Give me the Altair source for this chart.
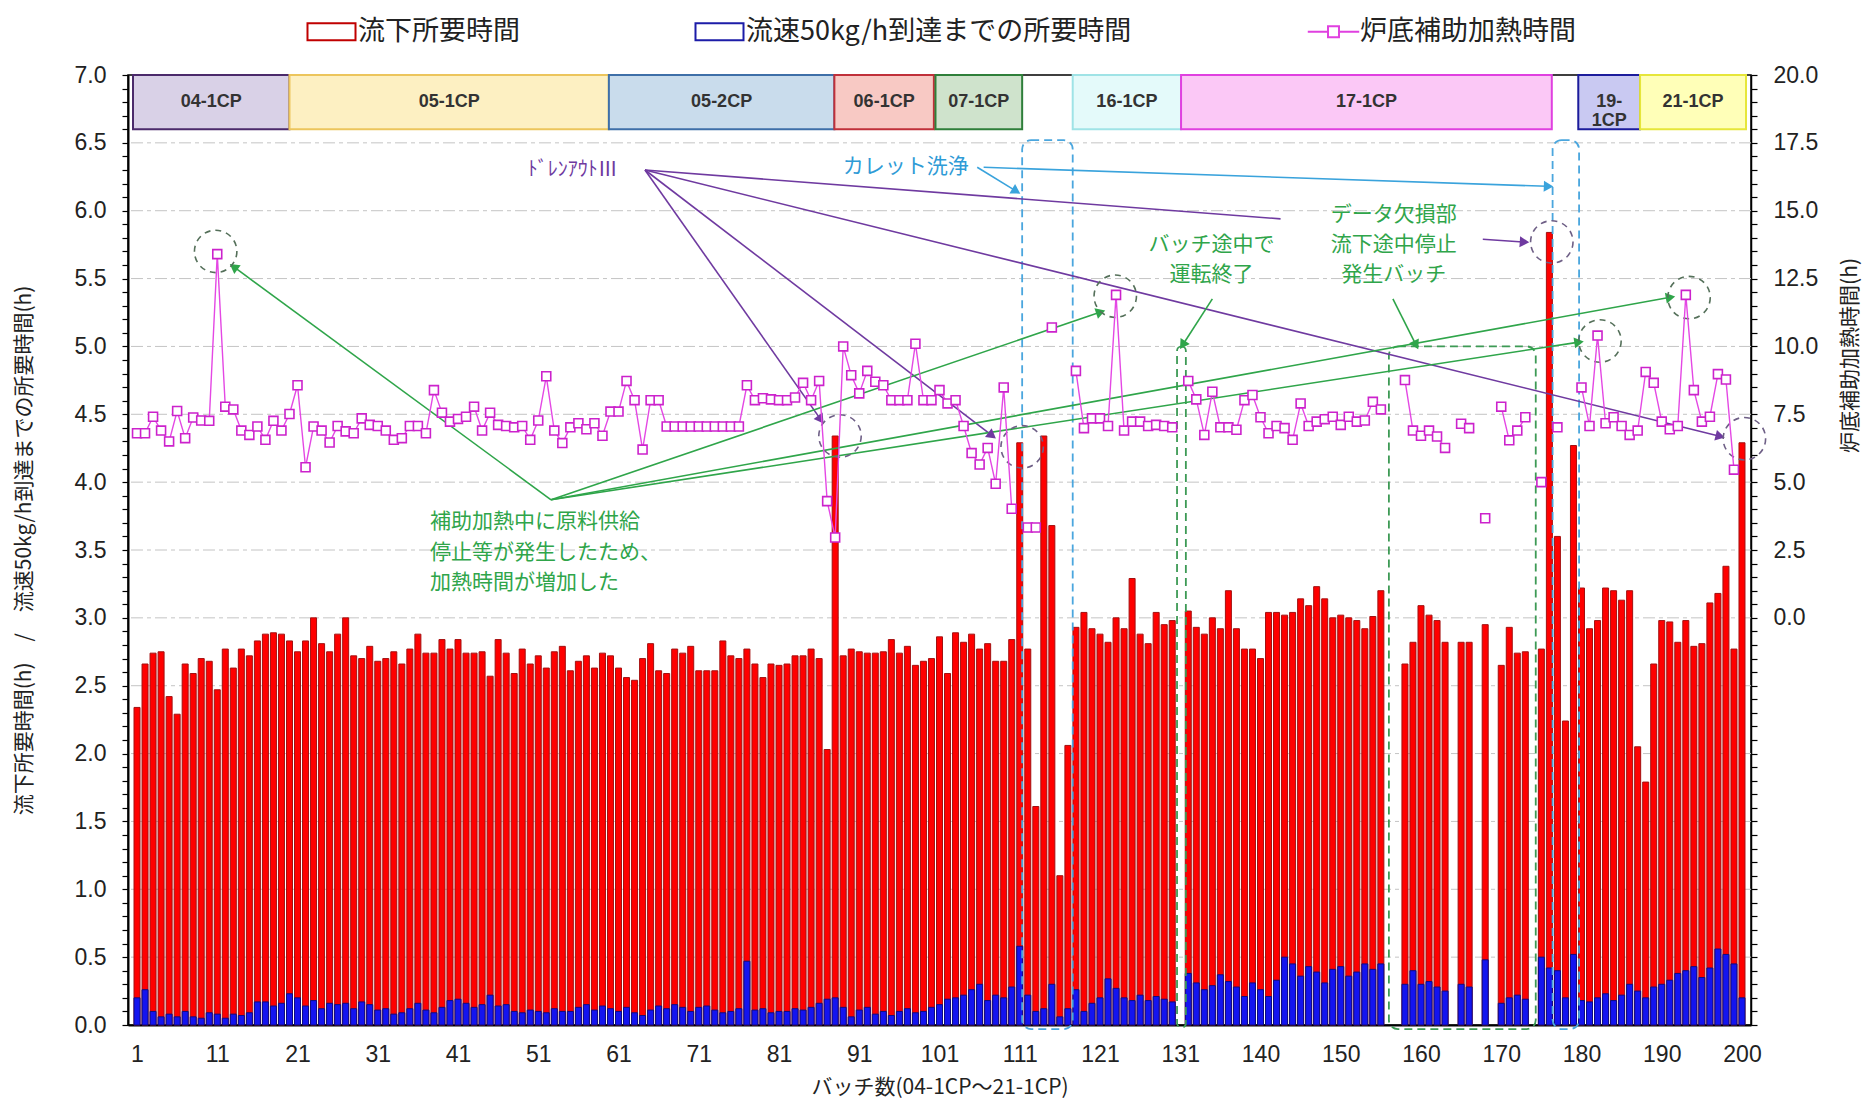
import math
import altair as alt
import pandas as pd

JP = "Noto Sans CJK JP"
NUM = "Liberation Sans"

W, H = 1623, 950
X_DOMAIN = [0.5, 201.5]
YL_DOMAIN = [0, 7]
YR_DOMAIN = [-15, 20]

PURPLE = "#6f3aa0"
BLUE_T = "#2f9bd6"
GREEN = "#2fa54a"

# ---------------- data ----------------
slots = list(range(1, 202))

flow_time = [
    2.34, 2.66, 2.74, 2.75, 2.42, 2.29, 2.66, 2.59, 2.70, 2.68,
    2.47, 2.77, 2.63, 2.77, 2.72, 2.83, 2.88, 2.89, 2.88, 2.83,
    2.75, 2.83, 3.00, 2.81, 2.75, 2.88, 3.00, 2.72, 2.70, 2.79,
    2.68, 2.70, 2.75, 2.66, 2.77, 2.88, 2.74, 2.74, 2.84, 2.77,
    2.84, 2.74, 2.74, 2.75, 2.57, 2.84, 2.74, 2.59, 2.77, 2.66,
    2.72, 2.63, 2.75, 2.79, 2.61, 2.68, 2.72, 2.63, 2.74, 2.72,
    2.63, 2.56, 2.54, 2.70, 2.81, 2.61, 2.59, 2.77, 2.74, 2.79,
    2.61, 2.61, 2.61, 2.83, 2.72, 2.70, 2.77, 2.66, 2.56, 2.66,
    2.65, 2.66, 2.72, 2.72, 2.77, 2.70, 2.03, 4.34, 2.72, 2.77,
    2.75, 2.74, 2.74, 2.75, 2.84, 2.74, 2.79, 2.65, 2.68, 2.70,
    2.86, 2.59, 2.89, 2.82, 2.88, 2.77, 2.81, 2.68, 2.68, 2.84,
    4.29, 2.77, 1.61, 4.34, 3.68, 1.10, 2.06, 2.93, 3.04, 2.92,
    2.88, 2.82, 3.00, 2.92, 3.29, 2.88, 2.81, 3.04, 2.95, 2.98,
    None, 3.05, 2.93, 2.88, 3.00, 2.92, 3.20, 2.92, 2.77, 2.77,
    2.70, 3.04, 3.04, 3.02, 3.04, 3.14, 3.09, 3.23, 3.14, 3.00,
    3.02, 3.00, 2.98, 2.92, 3.01, 3.20, None, None, 2.66, 2.82,
    3.09, 3.02, 2.98, 2.82, None, 2.82, 2.82, None, 2.95, None,
    2.65, 2.93, 2.74, 2.75, None, 2.77, 5.84, 3.60, 2.24, 4.27,
    3.22, 2.92, 2.98, 3.22, 3.20, 3.13, 3.20, 2.05, 1.79, 2.66,
    2.98, 2.97, 2.82, 2.98, 2.79, 2.81, 3.11, 3.18, 3.38, 2.77,
    4.29,
]

rate50_time = [
    0.20, 0.26, 0.10, 0.06, 0.08, 0.06, 0.10, 0.06, 0.05, 0.09,
    0.08, 0.05, 0.08, 0.07, 0.09, 0.17, 0.17, 0.14, 0.16, 0.23,
    0.20, 0.14, 0.18, 0.12, 0.16, 0.15, 0.16, 0.12, 0.17, 0.15,
    0.11, 0.12, 0.08, 0.09, 0.12, 0.16, 0.11, 0.09, 0.13, 0.18,
    0.19, 0.16, 0.13, 0.15, 0.22, 0.14, 0.15, 0.10, 0.09, 0.11,
    0.10, 0.09, 0.12, 0.10, 0.10, 0.13, 0.15, 0.11, 0.14, 0.12,
    0.10, 0.13, 0.09, 0.07, 0.11, 0.14, 0.12, 0.15, 0.13, 0.10,
    0.13, 0.14, 0.11, 0.09, 0.10, 0.12, 0.47, 0.11, 0.12, 0.09,
    0.10, 0.10, 0.12, 0.11, 0.13, 0.16, 0.19, 0.20, 0.13, 0.06,
    0.11, 0.13, 0.08, 0.10, 0.07, 0.10, 0.12, 0.09, 0.10, 0.13,
    0.15, 0.19, 0.20, 0.22, 0.26, 0.30, 0.18, 0.22, 0.20, 0.28,
    0.58, 0.22, 0.10, 0.12, 0.30, 0.06, 0.12, 0.26, 0.10, 0.16,
    0.20, 0.34, 0.27, 0.20, 0.18, 0.22, 0.18, 0.21, 0.19, 0.17,
    None, 0.38, 0.31, 0.26, 0.29, 0.37, 0.32, 0.28, 0.21, 0.31,
    0.26, 0.21, 0.33, 0.50, 0.45, 0.36, 0.43, 0.39, 0.31, 0.41,
    0.43, 0.36, 0.39, 0.45, 0.41, 0.45, None, None, 0.30, 0.40,
    0.30, 0.32, 0.28, 0.25, None, 0.30, 0.28, None, 0.48, None,
    0.16, 0.20, 0.22, 0.19, None, 0.50, 0.42, 0.40, 0.20, 0.52,
    0.18, 0.17, 0.20, 0.23, 0.18, 0.22, 0.30, 0.25, 0.20, 0.28,
    0.30, 0.33, 0.38, 0.40, 0.43, 0.35, 0.42, 0.56, 0.52, 0.45,
    0.20,
]

heat_time = [
    6.80, 6.80, 7.41, 6.90, 6.50, 7.62, 6.62, 7.38, 7.27, 7.26,
    13.4, 7.78, 7.68, 6.90, 6.74, 7.05, 6.56, 7.26, 6.90, 7.51,
    8.57, 5.55, 7.05, 6.90, 6.46, 7.07, 6.87, 6.80, 7.35, 7.11,
    7.07, 6.90, 6.56, 6.62, 7.07, 7.07, 6.80, 8.39, 7.56, 7.23,
    7.33, 7.41, 7.78, 6.90, 7.56, 7.11, 7.07, 7.02, 7.07, 6.56,
    7.27, 8.90, 6.90, 6.44, 7.02, 7.17, 6.95, 7.17, 6.71, 7.60,
    7.60, 8.73, 8.02, 6.20, 8.02, 8.02, 7.05, 7.05, 7.05, 7.05,
    7.05, 7.05, 7.05, 7.05, 7.05, 7.05, 8.57, 8.02, 8.09, 8.05,
    8.02, 8.02, 8.12, 8.66, 8.02, 8.73, 4.30, 2.96, 10.0, 8.94,
    8.27, 9.10, 8.70, 8.57, 8.02, 8.02, 8.02, 10.1, 8.02, 8.02,
    8.39, 7.90, 8.02, 7.07, 6.07, 5.65, 6.26, 4.94, 8.49, 4.02,
    None, 3.33, 3.33, None, 10.7, None, None, 9.10, 6.99, 7.35,
    7.35, 7.07, 11.9, 6.90, 7.23, 7.23, 7.07, 7.11, 7.07, 7.02,
    None, 8.73, 8.05, 6.74, 8.33, 7.02, 7.02, 6.93, 8.02, 8.21,
    7.39, 6.80, 7.07, 6.99, 6.56, 7.90, 7.07, 7.23, 7.32, 7.41,
    7.11, 7.41, 7.23, 7.27, 7.96, 7.68, None, None, 8.76, 6.90,
    6.71, 6.90, 6.68, 6.26, None, 7.15, 6.99, None, 3.67, None,
    7.78, 6.54, 6.90, 7.39, None, 5.00, None, 7.02, None, None,
    8.49, 7.07, 10.4, 7.17, 7.39, 7.07, 6.74, 6.90, 9.06, 8.66,
    7.23, 6.95, 7.07, 11.9, 8.39, 7.23, 7.41, 8.98, 8.78, 5.46,
    None,
]

tick_slots = [1, 11, 21, 31, 41, 51, 61, 71, 81, 91, 101, 111, 121, 131,
              141, 151, 161, 171, 181, 191, 201]
tick_labels = ["1", "11", "21", "31", "41", "51", "61", "71", "81", "91", "101",
               "111", "121", "131", "140", "150", "160", "170", "180", "190", "200"]

left_ticks = [round(i * 0.1, 1) for i in range(71)]
left_grid = [0.5 * i for i in range(1, 14)]
right_ticks = [i * 0.5 for i in range(-30, 41)]

series_names = ["流下所要時間", "流速50kg/h到達までの所要時間", "炉底補助加熱時間"]
series_colors = ["#c00000", "#1c1ca8", "#e040e0"]
series_shapes = [
    "M-1.4,-0.5H1.4V0.5H-1.4Z",
    "M-1.4,-0.5H1.4V0.5H-1.4Z",
    "M-1.5,0H-0.32M0.32,0H1.5M-0.32,-0.32H0.32V0.32H-0.32Z",
]

camp_names = ["04-1CP", "05-1CP", "05-2CP", "06-1CP", "07-1CP",
              "16-1CP", "17-1CP", "19-\n1CP", "21-1CP"]
camp_start = [0.5, 20.0, 59.8, 87.9, 100.5, 117.6, 131.1, 180.6, 188.3]
camp_end = [20.0, 59.8, 87.9, 100.3, 111.3, 131.1, 177.3, 188.3, 201.5]
camp_fill = ["#d9d1e7", "#fdf0c2", "#c9dcec", "#f8c9c4", "#cfe3cc",
             "#e4fafa", "#fbc8f6", "#c9c9f2", "#ffffb8"]
camp_stroke = ["#4b2a6b", "#ecc55c", "#3e6fa8", "#c0303a", "#2f7f3a",
               "#9fe3e6", "#e040e0", "#1c1c9c", "#e6e63a"]

note_text = ["ﾄﾞﾚﾝｱｳﾄⅢ", "カレット洗浄", "バッチ途中で", "運転終了",
             "データ欠損部", "流下途中停止", "発生バッチ"]
note_x = [55.3, 96.8, 134.9, 134.9, 157.6, 157.6, 157.6]
note_y = [6.30, 6.32, 5.75, 5.53, 5.97, 5.75, 5.53]
note_color = [PURPLE, BLUE_T, GREEN, GREEN, GREEN, GREEN, GREEN]
note_size = [20, 21, 21, 21, 21, 21, 21]

block_text = ["補助加熱中に原料供給", "停止等が発生したため、", "加熱時間が増加した"]
block_x = [37.5, 37.5, 37.5]
block_y = [3.71, 3.48, 3.26]

arr_x1 = [64.3, 64.3, 64.3, 168.7, 64.3, 105.7, 106.5, 52.6, 52.6, 52.6, 52.6, 135.0, 157.5]
arr_y1 = [6.30, 6.30, 6.30, 5.79, 6.30, 6.32, 6.32, 3.87, 3.87, 3.87, 3.87, 5.35, 5.35]
arr_x2 = [86.1, 107.4, 143.5, 173.7, 198.1, 110.4, 176.7, 13.2, 120.9, 180.5, 191.9, 131.4, 160.3]
arr_y2 = [4.47, 4.35, 5.94, 5.77, 4.34, 6.15, 6.18, 5.58, 5.25, 5.03, 5.36, 5.02, 5.02]
arr_color = [PURPLE] * 5 + ["#3aa3dc"] * 2 + [GREEN] * 6
arr_head = [1, 1, 0, 1, 1, 1, 1, 1, 1, 1, 1, 1, 1]

circ_x = [10.8, 122.9, 183.3, 194.4, 88.6, 111.3, 177.3, 201.3]
circ_y = [5.70, 5.37, 5.04, 5.36, 4.34, 4.26, 5.77, 4.32]
circ_color = ["#55705a"] * 4 + ["#6e5f86"] * 4

box_x1 = [111.3, 177.4, 130.6, 157.0]
box_x2 = [117.6, 180.7, 131.7, 175.3]
box_y1 = [-0.03, -0.03, -0.02, -0.03]
box_y2 = [6.52, 6.52, 5.00, 5.00]
box_color = ["#4aa6de", "#4aa6de", "#3d9a55", "#3d9a55"]

# ---------------- frames ----------------
df = pd.DataFrame({"slot": slots, "flow": flow_time, "rate": rate50_time, "heat": heat_time})
seg, cur = [], 0
for v in heat_time:
    if v is None:
        cur += 1
    seg.append(cur)
df["seg"] = seg
heat_df = df[df["heat"].notna()].copy()

camp_df = pd.DataFrame({"name": camp_names, "start": camp_start, "end": camp_end,
                        "fill": camp_fill, "stroke": camp_stroke})
camp_df["mid"] = (camp_df["start"] + camp_df["end"]) / 2
camp_df["lo"] = 6.6
camp_df["hi"] = 7.0
camp_df["ym"] = 6.8

px_slot = W / (X_DOMAIN[1] - X_DOMAIN[0])
px_unit = H / (YL_DOMAIN[1] - YL_DOMAIN[0])
arr_df = pd.DataFrame({"x1": arr_x1, "y1": arr_y1, "x2": arr_x2, "y2": arr_y2,
                       "col": arr_color, "head": arr_head})
arr_df["ang"] = [
    (math.degrees(math.atan2((b - a) * px_slot, (d - c) * px_unit)) + 360) % 360
    for a, b, c, d in zip(arr_df.x1, arr_df.x2, arr_df.y1, arr_df.y2)
]
head_df = arr_df[arr_df["head"] == 1]

note_df = pd.DataFrame({"x": note_x, "y": note_y, "t": note_text, "col": note_color, "fs": note_size})
block_df = pd.DataFrame({"x": block_x, "y": block_y, "t": block_text})
circ_df = pd.DataFrame({"x": circ_x, "y": circ_y, "col": circ_color})
box_df = pd.DataFrame({"x1": box_x1, "x2": box_x2, "y1": box_y1, "y2": box_y2, "col": box_color})
grid_df = pd.DataFrame({"g": left_grid})
leg_df = pd.DataFrame({"series": series_names, "slot": [-100.0] * 3, "v": [-100.0] * 3})

# ---------------- scales / axes ----------------
xs = alt.Scale(domain=X_DOMAIN, nice=False, zero=False)
yl = alt.Scale(domain=YL_DOMAIN, nice=False)
yr = alt.Scale(domain=YR_DOMAIN, nice=False)

lab_arr = "[" + ",".join(f"'{t}'" for t in tick_labels) + "]"
slot_arr = "[" + ",".join(str(s) for s in tick_slots) + "]"
x_axis = alt.Axis(
    values=tick_slots, labelExpr=f"{lab_arr}[indexof({slot_arr}, datum.value)]",
    labelOverlap=False, ticks=False, grid=False, domainColor="black", domainWidth=2,
    labelFont=NUM, labelFontSize=23, labelColor="#222", labelPadding=18,
    title="バッチ数(04-1CP～21-1CP)", titleFont=JP, titleFontSize=21,
    titleFontWeight="normal", titleColor="#222", titlePadding=10,
)

left_axis = alt.Axis(
    values=left_ticks,
    labelExpr="abs(datum.value*2 - round(datum.value*2)) < 0.001 ? format(datum.value, '.1f') : ''",
    labelOverlap=False, tickSize=6, grid=False,
    domainColor="black", domainWidth=2, tickColor="black", tickWidth=1.2,
    labelFont=NUM, labelFontSize=23, labelColor="#222", labelPadding=16,
    title="流下所要時間(h)　/　流速50kg/h到達までの所要時間(h)",
    titleFont=JP, titleFontSize=21, titleFontWeight="normal", titleColor="#222",
    titlePadding=40,
)

right_axis = alt.Axis(
    orient="right",
    values=right_ticks,
    labelExpr="(abs(datum.value/2.5 - round(datum.value/2.5)) < 0.001 && datum.value >= 0) ? format(datum.value, '.1f') : ''",
    labelOverlap=False, tickSize=6, grid=False,
    domainColor="black", domainWidth=1.5, tickColor="black", tickWidth=1.2,
    labelFont=NUM, labelFontSize=23, labelColor="#222", labelPadding=16,
    title="炉底補助加熱時間(h)", titleFont=JP, titleFontSize=21, titleFontWeight="normal",
    titleColor="#222", titleAngle=270, titleX=99, titleY=280,
    titleAlign="center", titleBaseline="middle",
)

# ---------------- layers (left scale) ----------------
grid = alt.Chart(grid_df).mark_rule(color="#c4c4c4", strokeWidth=1, strokeDash=[12, 4, 4, 4]).encode(
    y=alt.Y("g:Q", scale=yl, axis=None),
)
red = alt.Chart(df).mark_bar(size=6, color="#ff0000", stroke="#a41010",
                             strokeWidth=1, opacity=1).encode(
    x=alt.X("slot:Q", scale=xs, axis=x_axis),
    y=alt.Y("flow:Q", scale=yl, axis=left_axis),
)
blue = alt.Chart(df).mark_bar(size=6, color="#1414f0", stroke="#0c0c80",
                              strokeWidth=1, opacity=1).encode(
    x=alt.X("slot:Q", scale=xs, axis=x_axis),
    y=alt.Y("rate:Q", scale=yl, axis=None),
)
bands = alt.Chart(camp_df).mark_rect(strokeWidth=2).encode(
    x=alt.X("start:Q", scale=xs, axis=x_axis), x2="end:Q",
    y=alt.Y("lo:Q", scale=yl, axis=None), y2="hi:Q",
    fill=alt.Fill("fill:N", scale=None), stroke=alt.Stroke("stroke:N", scale=None),
)
band_text = alt.Chart(camp_df).mark_text(font=NUM, fontSize=18, fontWeight="bold",
                                         color="#333", lineBreak="\n", lineHeight=19).encode(
    x=alt.X("mid:Q", scale=xs, axis=x_axis),
    y=alt.Y("ym:Q", scale=yl, axis=None),
    text="name:N",
)
boxes = alt.Chart(box_df).mark_rect(fillOpacity=0, strokeWidth=1.8, strokeDash=[8, 5],
                                    cornerRadius=9).encode(
    x=alt.X("x1:Q", scale=xs, axis=x_axis), x2="x2:Q",
    y=alt.Y("y1:Q", scale=yl, axis=None), y2="y2:Q",
    stroke=alt.Stroke("col:N", scale=None),
)
rules = alt.Chart(arr_df).mark_rule(strokeWidth=1.6).encode(
    x=alt.X("x1:Q", scale=xs, axis=x_axis), x2="x2:Q",
    y=alt.Y("y1:Q", scale=yl, axis=None), y2="y2:Q",
    color=alt.Color("col:N", scale=None),
)
heads = alt.Chart(head_df).mark_point(shape="triangle", filled=True, size=120, opacity=1).encode(
    x=alt.X("x2:Q", scale=xs, axis=x_axis),
    y=alt.Y("y2:Q", scale=yl, axis=None),
    angle=alt.Angle("ang:Q", scale=None),
    color=alt.Color("col:N", scale=None),
)
circles = alt.Chart(circ_df).mark_point(shape="circle", filled=False, size=1800,
                                        strokeWidth=1.6, strokeDash=[6, 5], opacity=1).encode(
    x=alt.X("x:Q", scale=xs, axis=x_axis),
    y=alt.Y("y:Q", scale=yl, axis=None),
    color=alt.Color("col:N", scale=None),
)
notes = alt.Chart(note_df).mark_text(font=JP, align="center", baseline="middle").encode(
    x=alt.X("x:Q", scale=xs, axis=x_axis),
    y=alt.Y("y:Q", scale=yl, axis=None),
    text="t:N",
    color=alt.Color("col:N", scale=None),
    size=alt.Size("fs:Q", scale=None),
)
block = alt.Chart(block_df).mark_text(font=JP, fontSize=21, align="left", baseline="middle",
                                      color=GREEN).encode(
    x=alt.X("x:Q", scale=xs, axis=x_axis),
    y=alt.Y("y:Q", scale=yl, axis=None),
    text="t:N",
)
leg = alt.Legend(title=None, orient="none", legendX=183, legendY=-64, direction="horizontal",
                 labelFont=JP, labelFontSize=27, labelColor="#222", labelLimit=1000,
                 symbolSize=1176, symbolStrokeWidth=2, columnPadding=171, labelOffset=8,
                 padding=2)
legend_layer = alt.Chart(leg_df).mark_point(filled=False, strokeWidth=2, opacity=1, clip=True).encode(
    x=alt.X("slot:Q", scale=xs, axis=x_axis),
    y=alt.Y("v:Q", scale=yl, axis=None),
    color=alt.Color("series:N", scale=alt.Scale(domain=series_names, range=series_colors), legend=leg),
    shape=alt.Shape("series:N", scale=alt.Scale(domain=series_names, range=series_shapes), legend=leg),
)

# ---------------- layers (right scale) ----------------
line = alt.Chart(heat_df).mark_line(color="#e448e4", strokeWidth=1.4).encode(
    x=alt.X("slot:Q", scale=xs, axis=x_axis),
    y=alt.Y("heat:Q", scale=yr, axis=right_axis),
    detail="seg:N",
)
pts = alt.Chart(heat_df).mark_point(shape="square", filled=True, fill="white", stroke="#cc22cc",
                                    strokeWidth=1.6, size=80, opacity=1).encode(
    x=alt.X("slot:Q", scale=xs, axis=x_axis),
    y=alt.Y("heat:Q", scale=yr, axis=None),
)

chart = alt.layer(
    grid, red, blue, bands, band_text, boxes, rules, heads, circles, notes, block,
    legend_layer, line, pts,
).resolve_scale(y="independent").properties(
    width=W, height=H, padding={"left": 5, "right": 2, "top": 3, "bottom": 2},
    background="white",
).configure_view(stroke="black", strokeWidth=1.5)

chart.save("out.html", embed_options={"renderer": "svg", "actions": False})
